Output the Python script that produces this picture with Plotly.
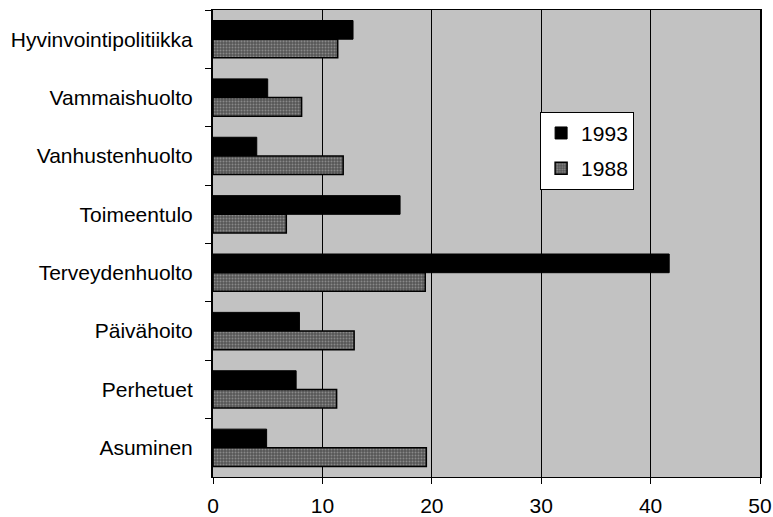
import plotly.graph_objects as go

categories = ['Hyvinvointipolitiikka', 'Vammaishuolto', 'Vanhustenhuolto', 'Toimeentulo',
              'Terveydenhuolto', 'Päivähoito', 'Perhetuet', 'Asuminen']
values_1993 = [12.8, 5.0, 4.0, 17.1, 41.7, 7.9, 7.6, 4.9]
values_1988 = [11.4, 8.1, 11.9, 6.7, 19.4, 12.9, 11.3, 19.5]
x_ticks = [0, 10, 20, 30, 40, 50]

fig = go.Figure()

fig.add_trace(go.Bar(
    y=categories, x=values_1993, name='1993', orientation='h', legendgroup='a',
    marker=dict(color='black', line=dict(color='black', width=1))
))

fig.add_trace(go.Bar(
    y=categories, x=values_1988, name='1988', orientation='h', legendgroup='b',
    marker=dict(color='#6e6e6e', line=dict(color='black', width=1.5),
                pattern=dict(shape='.', fgcolor='#bdbdbd', bgcolor='#555555',
                             size=3, solidity=0.35))
))

fig.update_layout(
    width=773, height=517,
    margin=dict(l=213, r=13, t=10, b=40, autoexpand=False),
    barmode='group', bargap=0.36, bargroupgap=0.0,
    paper_bgcolor='white', plot_bgcolor='#c2c2c2',
    font=dict(family='Liberation Sans, Arial', size=21, color='black'),
    legend=dict(x=0.598, y=0.782, xanchor='left', yanchor='top',
                bgcolor='white', bordercolor='black', borderwidth=1,
                font=dict(size=21), itemwidth=30, tracegroupgap=5,
                entrywidth=110),
)

fig.update_xaxes(
    range=[0, 50], tickvals=x_ticks, ticktext=[str(t) for t in x_ticks],
    showgrid=True, gridcolor='black', gridwidth=1,
    showline=True, linecolor='black', linewidth=1, mirror=True,
    ticks='outside', ticklen=6, tickcolor='black', zeroline=False,
    ticklabelstandoff=4, automargin=False,
)
fig.update_yaxes(
    autorange='reversed', showgrid=False,
    showline=True, linecolor='black', linewidth=2, mirror=True,
    ticks='outside', ticklen=6, tickcolor='black', tickson='boundaries',
    ticklabelstandoff=14, automargin=False,
)

# drop the default page margin so the figure fills the window exactly
fig.write_html("out.html", config={'displayModeBar': False},
               post_script="document.body.style.margin='0';document.body.style.overflow='hidden';")
